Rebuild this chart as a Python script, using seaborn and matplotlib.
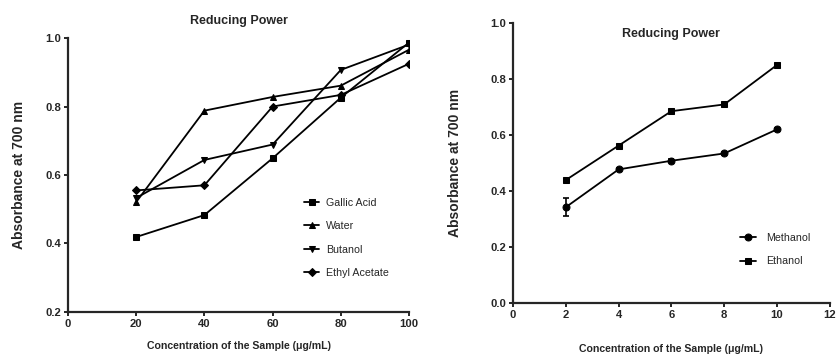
import numpy as np
import pandas as pd
import matplotlib
matplotlib.use("Agg")
import matplotlib.pyplot as plt
from matplotlib import font_manager
import seaborn as sns

# ----------------------------------------------------------
# data
# ----------------------------------------------------------
conc_left = [20, 40, 60, 80, 100]
gallic_acid = [0.419, 0.483, 0.649, 0.826, 0.987]
water = [0.521, 0.788, 0.828, 0.861, 0.966]
butanol = [0.533, 0.644, 0.689, 0.907, 0.981]
ethyl_acetate = [0.555, 0.570, 0.800, 0.834, 0.925]

conc_right = [2, 4, 6, 8, 10]
methanol = [0.342, 0.477, 0.508, 0.534, 0.620]
methanol_err = [0.033, 0.006, 0.005, 0.005, 0.006]
ethanol = [0.439, 0.562, 0.685, 0.709, 0.850]

# ----------------------------------------------------------
# style
# ----------------------------------------------------------
sns.set_style("ticks")
plt.rcParams['font.family'] = ['Liberation Sans', 'DejaVu Sans']

installed = {f.name for f in font_manager.fontManager.ttflist}
narrow = 'Liberation Sans Narrow' if 'Liberation Sans Narrow' in installed else 'Liberation Sans'
NARROW = [narrow, 'DejaVu Sans']
narrow_scale = 1.0 if narrow == 'Liberation Sans Narrow' else 0.85

fig = plt.figure(figsize=(8.36, 3.59), dpi=100)
ax1 = fig.add_axes([0.0813, 0.131, 0.408, 0.763])
ax2 = fig.add_axes([0.6136, 0.156, 0.379, 0.780])


def style_axes(ax):
    sns.despine(ax=ax)
    ax.spines['left'].set_linewidth(1.6)
    ax.spines['bottom'].set_linewidth(1.6)
    ax.tick_params(direction='out', length=3, width=1.4, pad=2)
    for lab in ax.get_xticklabels() + ax.get_yticklabels():
        lab.set_fontweight('bold')
        lab.set_family(NARROW)
        lab.set_fontsize(9.5 * narrow_scale)


def style_legend(leg):
    for t in leg.get_texts():
        t.set_family(NARROW)
        t.set_fontsize(9 * narrow_scale)


# ----------------------------------------------------------
# left panel
# ----------------------------------------------------------
left_series = {'Gallic Acid': (gallic_acid, 's', 5),
               'Water': (water, '^', 5),
               'Butanol': (butanol, 'v', 5),
               'Ethyl Acetate': (ethyl_acetate, 'D', 4)}
for name, (vals, mk, ms) in left_series.items():
    sns.lineplot(x=conc_left, y=vals, ax=ax1, color='black', marker=mk,
                 markersize=ms, markeredgecolor='black', linewidth=1.3, label=name)

ax1.set_xlim(0, 100)
ax1.set_ylim(0.2, 1.0)
ax1.set_xticks(np.arange(0, 101, 20))
ax1.set_yticks([0.2, 0.4, 0.6, 0.8, 1.0])
ax1.set_yticklabels(['0.2', '0.4', '0.6', '0.8', '1.0'])
style_axes(ax1)
ax1.set_title('Reducing Power', fontsize=9, fontweight='bold', pad=10)
ax1.set_xlabel('Concentration of the Sample (\u03bcg/mL)', fontsize=8.9 * narrow_scale,
               fontweight='bold', family=NARROW, labelpad=9)
ax1.set_ylabel('Absorbance at 700 nm', fontsize=10, fontweight='bold', labelpad=14)
leg1 = ax1.legend(loc='center right', bbox_to_anchor=(0.97, 0.27), frameon=False,
                  fontsize=8, handlelength=1.4, labelspacing=1.2, handletextpad=0.6)
style_legend(leg1)

# ----------------------------------------------------------
# right panel
# ----------------------------------------------------------
ax2.errorbar(conc_right, methanol, yerr=methanol_err, fmt='none', ecolor='black',
             elinewidth=1.2, capsize=2.5, capthick=1.2)
sns.lineplot(x=conc_right, y=methanol, ax=ax2, color='black', marker='o',
             markersize=5, markeredgecolor='black', linewidth=1.3, label='Methanol')
sns.lineplot(x=conc_right, y=ethanol, ax=ax2, color='black', marker='s',
             markersize=5, markeredgecolor='black', linewidth=1.3, label='Ethanol')

ax2.set_xlim(0, 12)
ax2.set_ylim(0, 1.0)
ax2.set_xticks(np.arange(0, 13, 2))
ax2.set_yticks([0.0, 0.2, 0.4, 0.6, 0.8, 1.0])
ax2.set_yticklabels(['0.0', '0.2', '0.4', '0.6', '0.8', '1.0'])
style_axes(ax2)
ax2.set_title('Reducing Power', fontsize=9, fontweight='bold', y=0.92)
ax2.set_xlabel('Concentration of the Sample (\u03bcg/mL)', fontsize=8.9 * narrow_scale,
               fontweight='bold', family=NARROW, labelpad=17)
ax2.set_ylabel('Absorbance at 700 nm', fontsize=10, fontweight='bold', labelpad=20)
leg2 = ax2.legend(loc='center right', bbox_to_anchor=(0.97, 0.19), frameon=False,
                  fontsize=8, handlelength=1.4, labelspacing=1.2, handletextpad=0.9)
style_legend(leg2)

plt.savefig('out.png', dpi=100)
